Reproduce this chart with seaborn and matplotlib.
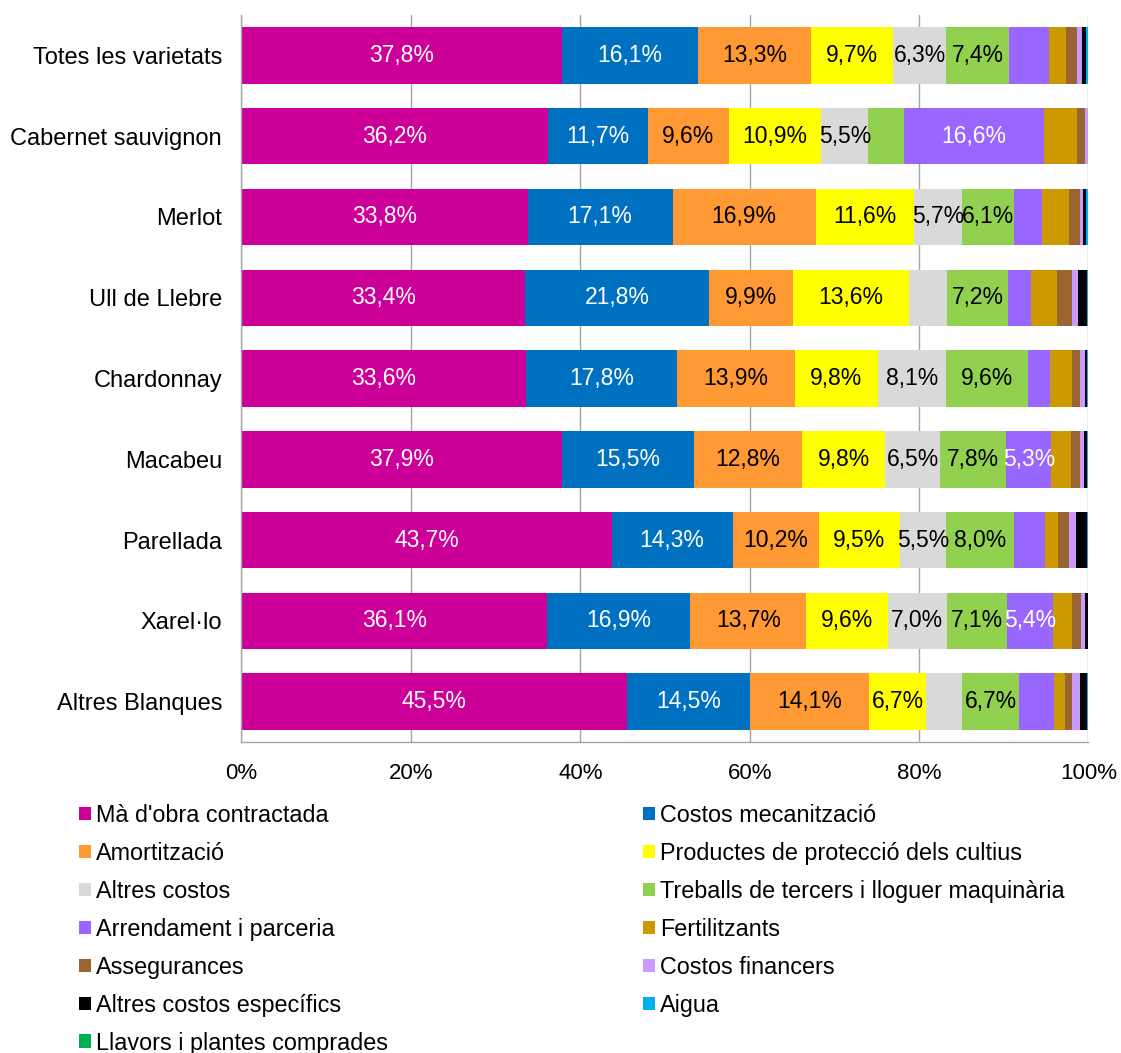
import numpy as np
import pandas as pd
import matplotlib.pyplot as plt
import seaborn as sns
from matplotlib.patches import Patch
from matplotlib.ticker import FixedLocator, PercentFormatter

# categories (top to bottom)
varietats = ["Totes les varietats", "Cabernet sauvignon", "Merlot", "Ull de Llebre",
             "Chardonnay", "Macabeu", "Parellada", "Xarel·lo", "Altres Blanques"]

# share of each cost (%) per variety
ma_obra = [37.8, 36.2, 33.8, 33.4, 33.6, 37.9, 43.7, 36.1, 45.5]
mecanitzacio = [16.1, 11.7, 17.1, 21.8, 17.8, 15.5, 14.3, 16.9, 14.5]
amortitzacio = [13.3, 9.6, 16.9, 9.9, 13.9, 12.8, 10.2, 13.7, 14.1]
proteccio = [9.7, 10.9, 11.6, 13.6, 9.8, 9.8, 9.5, 9.6, 6.7]
altres_costos = [6.3, 5.5, 5.7, 4.5, 8.1, 6.5, 5.5, 7.0, 4.3]
tercers = [7.4, 4.2, 6.1, 7.2, 9.6, 7.8, 8.0, 7.1, 6.7]
arrendament = [4.7, 16.6, 3.3, 2.7, 2.6, 5.3, 3.7, 5.4, 4.1]
fertilitzants = [2.1, 3.9, 3.2, 3.1, 2.7, 2.3, 1.5, 2.2, 1.3]
assegurances = [1.2, 0.9, 1.3, 1.7, 0.9, 1.1, 1.3, 1.1, 0.9]
financers = [0.6, 0.4, 0.3, 0.8, 0.6, 0.5, 0.8, 0.5, 0.9]
especifics = [0.5, 0.0, 0.4, 1.0, 0.2, 0.3, 1.3, 0.3, 0.8]
aigua = [0.3, 0.0, 0.3, 0.2, 0.2, 0.2, 0.2, 0.1, 0.2]
llavors = [0.0, 0.0, 0.0, 0.0, 0.0, 0.0, 0.0, 0.0, 0.0]

series_names = ["Mà d'obra contractada", "Costos mecanització", "Amortització",
                "Productes de protecció dels cultius", "Altres costos",
                "Treballs de tercers i lloguer maquinària", "Arrendament i parceria",
                "Fertilitzants", "Assegurances", "Costos financers",
                "Altres costos específics", "Aigua", "Llavors i plantes comprades"]
series_values = [ma_obra, mecanitzacio, amortitzacio, proteccio, altres_costos, tercers,
                 arrendament, fertilitzants, assegurances, financers, especifics, aigua, llavors]
colors = ["#CC0099", "#0070C0", "#FF9933", "#FFFF00", "#D9D9D9", "#92D050", "#9966FF",
          "#CC9900", "#996633", "#CC99FF", "#000000", "#00B0F0", "#00B050"]
white_text = {"Mà d'obra contractada", "Costos mecanització", "Arrendament i parceria"}

sns.set_theme(style="white")
plt.rcParams["font.family"] = ["Liberation Sans", "DejaVu Sans"]

vals = np.array(series_values).T  # rows = varietats
pct = vals / vals.sum(axis=1, keepdims=True) * 100
cum = np.cumsum(pct, axis=1)

fig = plt.figure(figsize=(11.21, 10.53), dpi=100)
ax = fig.add_axes([0.2154, 0.2953, 0.7556, 0.6904])

# stacked bars: draw cumulative totals from the back to the front
for i in reversed(range(len(series_names))):
    df = pd.DataFrame({"varietat": varietats, "cum": cum[:, i]})
    sns.barplot(data=df, x="cum", y="varietat", orient="h", color=colors[i],
                saturation=1, width=0.7, errorbar=None, linewidth=0, ax=ax)

# labels for segments >= 5%
for r in range(len(varietats)):
    for i, name in enumerate(series_names):
        v = vals[r, i]
        if v >= 5:
            centre = cum[r, i] - pct[r, i] / 2
            txt = f"{v:.1f}".replace(".", ",") + "%"
            ax.text(centre, r, txt, ha="center", va="center", fontsize=16.5,
                    color="white" if name in white_text else "black")

grey = "#A6A6A6"
ax.set_xlim(0, 100)
ax.set_ylim(len(varietats) - 0.5, -0.5)
ax.set_xticks([0, 20, 40, 60, 80, 100])
ax.xaxis.set_major_formatter(PercentFormatter(decimals=0))
ax.set_axisbelow(True)
ax.xaxis.grid(True, color=grey, linewidth=1)
ax.yaxis.grid(False)
ax.set_xlabel("")
ax.set_ylabel("")
for s in ["top", "right"]:
    ax.spines[s].set_visible(False)
for s in ["left", "bottom"]:
    ax.spines[s].set_color(grey)
    ax.spines[s].set_linewidth(1)
ax.tick_params(axis="x", direction="out", length=7, width=1, color=grey,
               labelsize=16, pad=8, labelcolor="black")
ax.tick_params(axis="y", which="major", length=0, labelsize=17, pad=14, labelcolor="black")
ax.yaxis.set_minor_locator(FixedLocator(np.arange(-0.5, len(varietats), 1.0)))
ax.tick_params(axis="y", which="minor", direction="out", length=7, width=1, color=grey)

handles = [Patch(facecolor=c, edgecolor="none", label=n) for c, n in zip(colors, series_names)]
leg_kw = dict(loc="upper left", frameon=False, fontsize=16.8, handlelength=0.52,
              handleheight=0.52, handletextpad=0.2, labelspacing=0.64,
              borderpad=0, borderaxespad=0, labelcolor="black")
fig.legend(handles=handles[0::2], bbox_to_anchor=(0.0705, 0.2365), **leg_kw)
fig.legend(handles=handles[1::2], bbox_to_anchor=(0.5739, 0.2365), **leg_kw)

fig.savefig("out.png", dpi=100, facecolor="white")
